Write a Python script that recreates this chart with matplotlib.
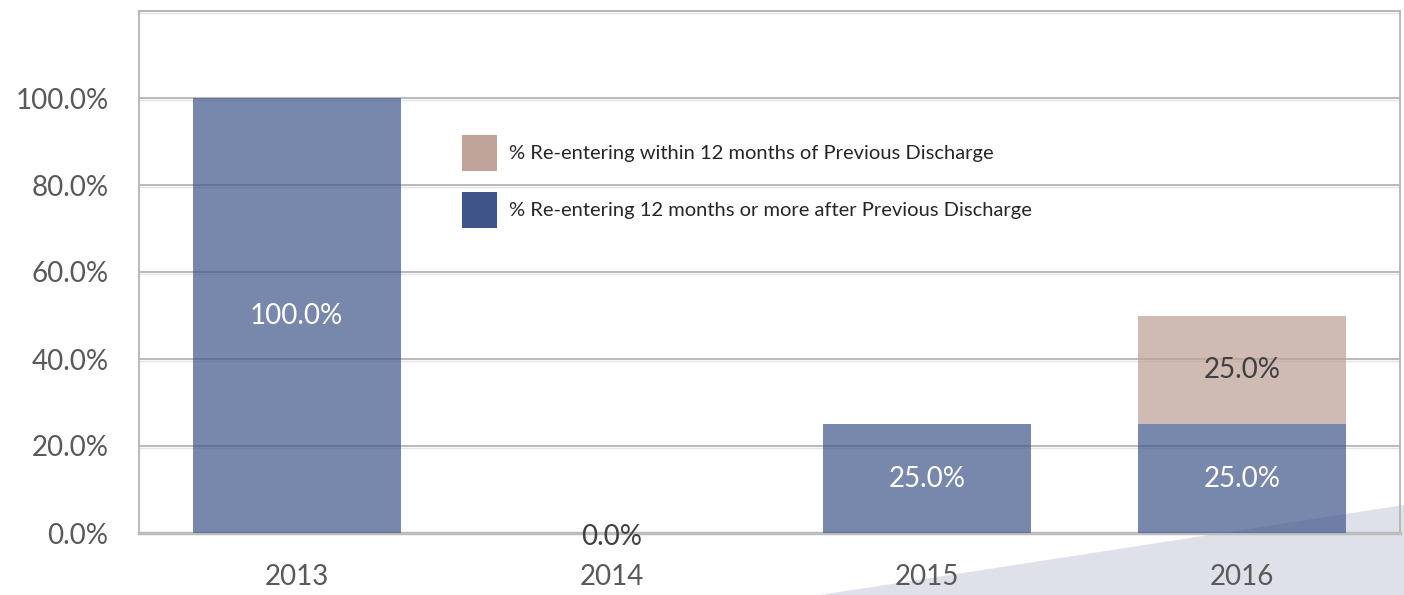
import matplotlib.pyplot as plt
from matplotlib.patches import Polygon
import numpy as np

# данные
years = ["2013", "2014", "2015", "2016"]
within_12 = [0.0, 0.0, 0.0, 25.0]
after_12 = [100.0, 0.0, 25.0, 25.0]
legend_labels = ["% Re-entering within 12 months of Previous Discharge",
                 "% Re-entering 12 months or more after Previous Discharge"]

plt.rcParams['font.family'] = ['Lato', 'DejaVu Sans']

fig = plt.figure(figsize=(14.04, 5.95), dpi=100)
ax = fig.add_axes([139/1404, 1 - 533/595, (1400-139)/1404, (533-11)/595])
ax.set_facecolor('none')

# декоративный треугольник
tri = Polygon([[820/1404, 0], [1, 90/595], [1, 0]], closed=True,
              transform=fig.transFigure, facecolor='#dfe1ea', edgecolor='none', zorder=-1)
fig.patches.append(tri)

x = np.arange(len(years))
w = 0.66
blue = '#3f5589'
tan = '#c0a49a'
b1 = ax.bar(x, after_12, w, color=blue, alpha=0.7, zorder=3, label=legend_labels[1])
b2 = ax.bar(x, within_12, w, bottom=after_12, color=tan, alpha=0.75, zorder=3, label=legend_labels[0])

ax.set_xlim(-0.5, 3.5)
ax.set_ylim(0, 120)
ax.set_yticks(np.arange(0, 101, 20))
ax.set_yticklabels([f"{v:.1f}%" for v in np.arange(0, 101, 20)])
ax.set_xticks(x)
ax.set_xticklabels(years)
ax.tick_params(length=0, labelsize=20, colors='#595959')
ax.tick_params(axis='y', pad=22)
ax.tick_params(axis='x', pad=22)

for v in [20, 40, 60, 80, 100, 120]:
    ax.axhline(v, color='#b4b4b4', lw=1.3, zorder=1)
    ax.axhline(v - 0.35, color='#e4e4e4', lw=1.0, zorder=1)

for s in ax.spines.values():
    s.set_color('#b4b4b4')
    s.set_linewidth(1.3)
ax.spines['bottom'].set_linewidth(2.5)
ax.spines['bottom'].set_color('#bcbcbc')

# подписи значений
for i in range(len(years)):
    if after_12[i] > 0:
        ax.text(x[i], after_12[i] / 2, f"{after_12[i]:.1f}%", ha='center', va='center',
                color='white', fontsize=20, zorder=5)
    if within_12[i] > 0:
        ax.text(x[i], after_12[i] + within_12[i] / 2, f"{within_12[i]:.1f}%", ha='center',
                va='center', color='#404040', fontsize=20, zorder=5)
    if after_12[i] + within_12[i] == 0:
        ax.text(x[i], -1, "0.0%", ha='center', va='center', color='#404040', fontsize=20,
                zorder=5, clip_on=False)

leg = ax.legend(handles=[b2, b1], loc='upper left', bbox_to_anchor=(0.242, 0.797),
                frameon=False, fontsize=14.5, handlelength=1.7, handleheight=2.4,
                labelspacing=1.0, handletextpad=0.6)
for t in leg.get_texts():
    t.set_color('#262626')
for h in leg.legend_handles:
    h.set_alpha(1)

fig.savefig('out.png', dpi=100, facecolor='white')
